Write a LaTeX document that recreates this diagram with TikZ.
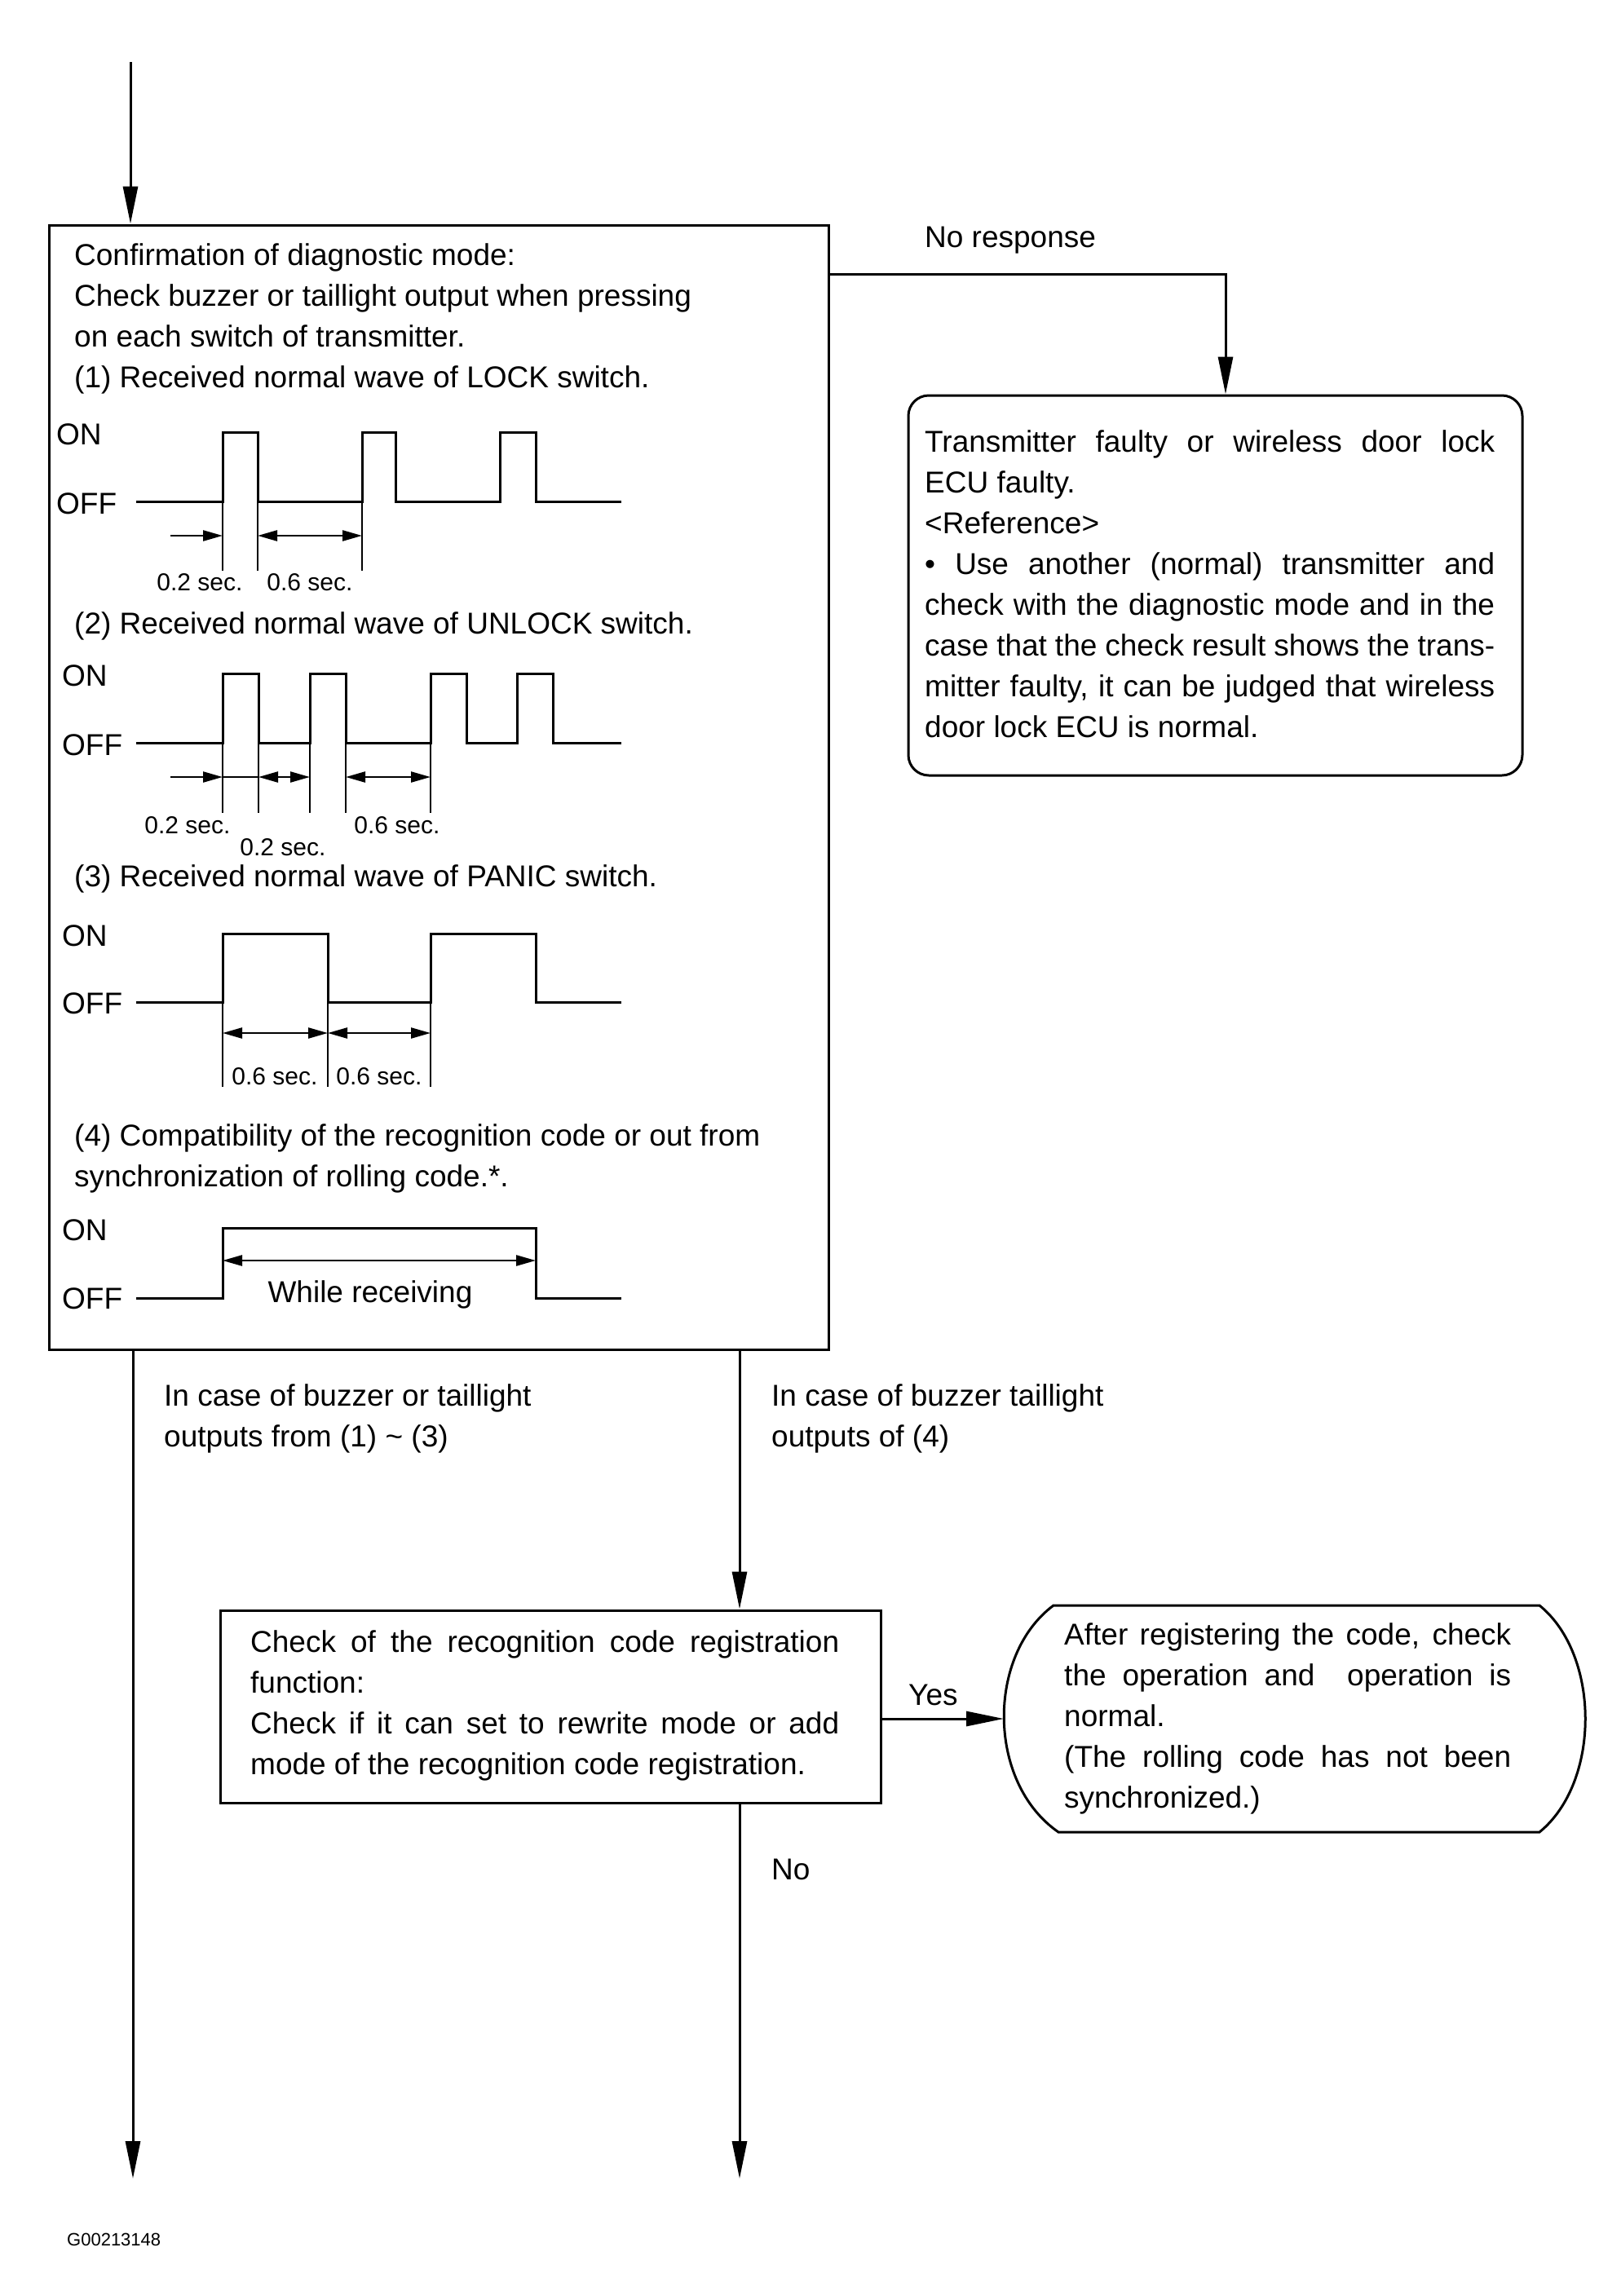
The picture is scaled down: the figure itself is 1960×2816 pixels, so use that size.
\documentclass[tikz,border=0pt]{standalone}
\usepackage{fontspec}
\setmainfont{Liberation Sans}
\usetikzlibrary{arrows.meta}
\newcommand{\jline}[2]{\makebox[#1][s]{#2}}
\begin{document}
\begin{tikzpicture}[x=1pt,y=-1pt,
 arr/.style={line width=3pt,-{Triangle[length=46pt,width=18pt]}},
 dimr/.style={line width=2.5pt,-{Triangle[length=24pt,width=13pt]}},
 dimb/.style={line width=2.5pt,{Triangle[length=24pt,width=13pt]}-{Triangle[length=24pt,width=13pt]}},
 wave/.style={line width=3pt,line join=miter},
 tick/.style={line width=2.5pt},
 box/.style={draw,line width=3pt,inner sep=0pt},
 txt/.style={inner sep=0pt,anchor=north west,align=left,font=\fontsize{37}{50}\selectfont},
 lbl/.style={inner sep=0pt,anchor=base west,font=\fontsize{37}{50}\selectfont},
 sml/.style={inner sep=0pt,anchor=base,font=\fontsize{30}{36}\selectfont}]
\useasboundingbox[fill=white] (0,0) rectangle (1960,2816);

% ---------- boxes ----------
\node[box,minimum width=956pt,minimum height=1379pt] (main) at (538,965.5) {};
\node[box,rounded corners=25pt,minimum width=753pt,minimum height=466pt] (rbox) at (1490.5,718) {};
\node[box,minimum width=810pt,minimum height=236pt] (chk) at (675,2093) {};
\node[inner sep=0pt,outer sep=0pt,minimum width=713pt,minimum height=278pt] (hex) at (1587.5,2108) {};
\draw[line width=3pt] (1292,1969) -- (1888,1969)
   .. controls (1963,2030) and (1963,2186) .. (1888,2247) -- (1298,2247)
   .. controls (1210,2186) and (1210,2030) .. (1292,1969) -- cycle;

% ---------- connectors ----------
\coordinate (start) at (160,76);
\coordinate (nr) at (1503,336);
\coordinate (endL) at (163,2672);
\coordinate (endM) at (907,2672);
\draw[arr] (start) -- (start |- main.north);
\draw[arr] (main.east |- nr) -- (nr) -- (nr |- rbox.north);
\draw[arr] (main.south -| endL) -- (endL);
\draw[arr] (main.south -| endM) -- (chk.north -| endM);
\draw[arr] (chk.south -| endM) -- (endM);
\draw[arr] (chk.east |- hex.west) -- (hex.west);

% ---------- main box texts ----------
\node[txt] (t1) at (91,290) {\strut Confirmation of diagnostic mode:\\
Check buzzer or taillight output when pressing\\
on each switch of transmitter.\\
(1) Received normal wave of LOCK switch.};
\node[txt] (t2) at (91,742) {\strut (2) Received normal wave of UNLOCK switch.};
\node[txt] (t3) at (91,1052) {\strut (3) Received normal wave of PANIC switch.};
\node[txt] (t4) at (91,1370) {\strut (4) Compatibility of the recognition code or out from\\
synchronization of rolling code.*.};

% ---------- LOCK wave ----------
\node[lbl] (on1) at (69,545) {ON};
\node[lbl] (off1) at (69,630) {OFF};
\draw[wave] (167,615) -- (273,615) -- (273,530) -- (316,530) -- (316,615) -- (444,615) -- (444,530)
  -- (485,530) -- (485,615) -- (613,615) -- (613,530) -- (657,530) -- (657,615) -- (762,615);
\foreach \x in {273,316,444} \draw[tick] (\x,615) -- (\x,700);
\draw[dimr] (209,657) -- (273,657);
\draw[dimb] (316,657) -- (444,657);
\node[sml] (l1a) at (245,724) {0.2 sec.};
\node[sml] (l1b) at (380,724) {0.6 sec.};

% ---------- UNLOCK wave ----------
\node[lbl] (on2) at (76,841) {ON};
\node[lbl] (off2) at (76,926) {OFF};
\draw[wave] (167,911) -- (273,911) -- (273,826) -- (317,826) -- (317,911) -- (380,911) -- (380,826)
  -- (424,826) -- (424,911) -- (528,911) -- (528,826) -- (572,826) -- (572,911) -- (634,911)
  -- (634,826) -- (678,826) -- (678,911) -- (762,911);
\foreach \x in {273,317,380,424,528} \draw[tick] (\x,911) -- (\x,997);
\draw[dimr] (209,953) -- (273,953);
\draw[tick] (273,953) -- (317,953);
\draw[dimb] (317,953) -- (380,953);
\draw[dimb] (424,953) -- (528,953);
\node[sml] (l2a) at (230,1022) {0.2 sec.};
\node[sml] (l2b) at (347,1049) {0.2 sec.};
\node[sml] (l2c) at (487,1022) {0.6 sec.};

% ---------- PANIC wave ----------
\node[lbl] (on3) at (76,1160) {ON};
\node[lbl] (off3) at (76,1243) {OFF};
\draw[wave] (167,1229) -- (273,1229) -- (273,1145) -- (402,1145) -- (402,1229) -- (528,1229)
  -- (528,1145) -- (657,1145) -- (657,1229) -- (762,1229);
\foreach \x in {273,402,528} \draw[tick] (\x,1229) -- (\x,1333);
\draw[dimb] (273,1267) -- (402,1267);
\draw[dimb] (402,1267) -- (528,1267);
\node[sml] (l3a) at (337,1330) {0.6 sec.};
\node[sml] (l3b) at (465,1330) {0.6 sec.};

% ---------- compatibility wave ----------
\node[lbl] (on4) at (76,1521) {ON};
\node[lbl] (off4) at (76,1605) {OFF};
\draw[wave] (167,1592) -- (273,1592) -- (273,1506) -- (657,1506) -- (657,1592) -- (762,1592);
\draw[dimb] (273,1546) -- (657,1546);
\node[lbl,anchor=base] (wr) at (454,1597) {While receiving};

% ---------- branch labels ----------
\node[txt] (bl) at (201,1689) {\strut In case of buzzer or taillight\\ outputs from (1) \textasciitilde{} (3)};
\node[txt] (br) at (946,1689) {\strut In case of buzzer taillight\\ outputs of (4)};
\node[lbl] (nores) at (1134,303) {No response};
\node[lbl] (yes) at (1114,2091) {Yes};
\node[lbl] (no) at (946,2305) {No};

% ---------- right box text ----------
\node[txt] (rt) at (1134,519) {\strut\jline{699pt}{Transmitter faulty or wireless door lock}\\
ECU faulty.\\
<Reference>\\
\jline{699pt}{\textbullet\ Use another (normal) transmitter and}\\
\jline{699pt}{check with the diagnostic mode and in the}\\
\jline{699pt}{case that the check result shows the trans-}\\
\jline{699pt}{mitter faulty, it can be judged that wireless}\\
door lock ECU is normal.};

% ---------- check box text ----------
\node[txt] (ct) at (307,1991) {\strut\jline{722pt}{Check of the recognition code registration}\\
function:\\
\jline{722pt}{Check if it can set to rewrite mode or add}\\
mode of the recognition code registration.};

% ---------- hex text ----------
\node[txt] (ht) at (1305,1982) {\strut\jline{548pt}{After registering the code, check}\\
\jline{548pt}{the operation and\ \ operation is}\\
normal.\\
\jline{548pt}{(The rolling code has not been}\\
synchronized.)};

\node[inner sep=0pt,anchor=base west,font=\fontsize{22}{26}\selectfont] (code) at (82,2754) {G00213148};
\end{tikzpicture}
\end{document}
